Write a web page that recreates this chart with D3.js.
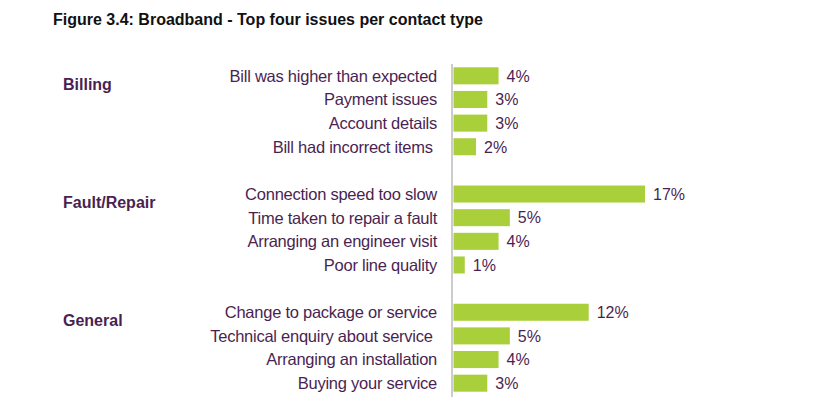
<!DOCTYPE html>
<html>
<head>
<meta charset="utf-8">
<script src="https://cdnjs.cloudflare.com/ajax/libs/d3/7.8.5/d3.min.js"></script>
<style>
  body { margin: 0; background: #fff; }
  text { font-family: "Liberation Sans", Arial, sans-serif; white-space: pre; }
</style>
</head>
<body>
<div id="chart"></div>
<script>
// figure 3.4 - broadband issues per contact type

var groups = ["Billing", "Fault/Repair", "General"];

var billingItems = ["Bill was higher than expected", "Payment issues", "Account details", "Bill had incorrect items "];
var billingValues = [4, 3, 3, 2];

var faultItems = ["Connection speed too slow", "Time taken to repair a fault", "Arranging an engineer visit", "Poor line quality"];
var faultValues = [17, 5, 4, 1];

var generalItems = ["Change to package or service", "Technical enquiry about service ", "Arranging an installation", "Buying your service"];
var generalValues = [12, 5, 4, 3];

var valueLabels = ["4%", "3%", "3%", "2%", "17%", "5%", "4%", "1%", "12%", "5%", "4%", "3%"];

var width = 820, height = 419;
var purple = "#4b1f52", green = "#a9cf3a";

// build rows, with an empty slot between groups
var rows = [], slots = [];
[[billingItems, billingValues], [faultItems, faultValues], [generalItems, generalValues]].forEach(function (g, gi) {
	if (gi > 0) slots.push("gap" + gi);
	g[0].forEach(function (item, i) {
		var key = gi + "_" + i;
		slots.push(key);
		rows.push({key: key, group: groups[gi], first: i === 0, item: item, point: g[1][i], label: valueLabels[rows.length]});
	});
});

var svg = d3.select("#chart")
	.append("svg")
	.attr("width", width)
	.attr("height", height);

svg.append("text")
	.attr("x", 53)
	.attr("y", 25)
	.attr("font-size", "16px")
	.attr("font-weight", "bold")
	.attr("fill", "#111")
	.text("Figure 3.4: Broadband - Top four issues per contact type");

var y = d3.scaleBand()
	.domain(slots)
	.range([64, 395])
	.paddingInner(0.28)
	.paddingOuter(0.14);

var x = d3.scaleLinear()
	.domain([0, 17])
	.range([453.5, 645]);

// bars
svg.selectAll(".bar")
	.data(rows)
	.enter().append("rect")
	.attr("class", "bar")
	.attr("x", x(0))
	.attr("y", function (d) { return y(d.key); })
	.attr("width", function (d) { return x(d.point) - x(0); })
	.attr("height", y.bandwidth())
	.attr("fill", green);

// value labels
svg.selectAll(".val")
	.data(rows)
	.enter().append("text")
	.attr("class", "val")
	.attr("x", function (d) { return x(d.point) + 8; })
	.attr("y", function (d) { return y(d.key) + y.bandwidth() / 2; })
	.attr("dy", "0.36em")
	.attr("font-size", "16px")
	.attr("fill", purple)
	.text(function (d) { return d.label; });

// item labels
svg.selectAll(".item")
	.data(rows)
	.enter().append("text")
	.attr("class", "item")
	.attr("x", 437)
	.attr("y", function (d) { return y(d.key) + y.bandwidth() / 2; })
	.attr("dy", "0.36em")
	.attr("text-anchor", "end")
	.attr("font-size", "16.5px")
	.attr("letter-spacing", "-0.25px")
	.attr("fill", purple)
	.text(function (d) { return d.item; });

// group labels
svg.selectAll(".group")
	.data(rows.filter(function (d) { return d.first; }))
	.enter().append("text")
	.attr("class", "group")
	.attr("x", 63)
	.attr("y", function (d) { return y(d.key) + y.bandwidth() / 2 + 14; })
	.attr("font-size", "16px")
	.attr("font-weight", "bold")
	.attr("fill", purple)
	.text(function (d) { return d.group; });

// axis line
svg.append("line")
	.attr("x1", 452).attr("x2", 452)
	.attr("y1", 64).attr("y2", 397)
	.attr("stroke", "#cccccc")
	.attr("stroke-width", 2);
</script>
</body>
</html>
